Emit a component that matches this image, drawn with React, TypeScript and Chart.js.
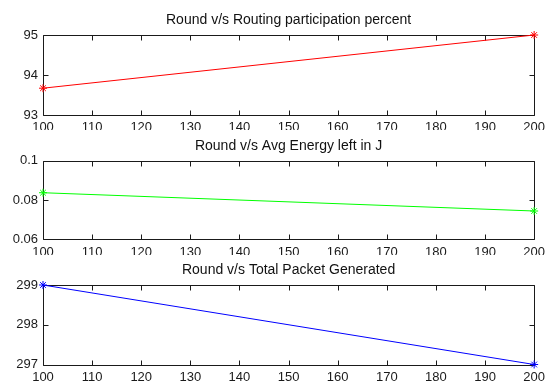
import React, { useEffect, useRef } from "react";
import { Chart, registerables } from "chart.js";

Chart.register(...registerables);

// ---- data ----
const rounds = [100, 200];
const routingPercent = [93.67, 95];
const avgEnergy = [0.0837, 0.0744];
const packetsGenerated = [299, 297];

const titles = [
  "Round v/s Routing participation percent",
  "Round v/s Avg Energy left in J",
  "Round v/s Total Packet Generated",
];
const xRange = { min: 100, max: 200, step: 10 };
const yRanges = [
  { min: 93, max: 95, step: 1 },
  { min: 0.06, max: 0.1, step: 0.02 },
  { min: 297, max: 299, step: 1 },
];
const colors = ["#ff0000", "#00ff00", "#0000ff"];

const FONT = "'Liberation Sans', Arial, Helvetica, sans-serif";

const fmt = (v: any) => String(parseFloat(Number(v).toFixed(6)));

const boxPlugin = {
  id: "matlabBox",
  beforeDatasetsDraw(chart: any) {
    const { ctx, chartArea } = chart;
    const xs = chart.scales.x;
    const ys = chart.scales.y;
    const l = Math.round(chartArea.left) + 0.5;
    const r = Math.round(chartArea.right) + 0.5;
    const t = Math.round(chartArea.top) + 0.5;
    const b = Math.round(chartArea.bottom) + 0.5;
    const tl = 5;
    ctx.save();
    ctx.strokeStyle = "#1a1a1a";
    ctx.lineWidth = 1;
    ctx.beginPath();
    ctx.rect(l, t, r - l, b - t);
    xs.ticks.forEach((tk: any) => {
      const px = Math.round(xs.getPixelForValue(tk.value)) + 0.5;
      ctx.moveTo(px, b);
      ctx.lineTo(px, b - tl);
      ctx.moveTo(px, t);
      ctx.lineTo(px, t + tl);
    });
    ys.ticks.forEach((tk: any) => {
      const py = Math.round(ys.getPixelForValue(tk.value)) + 0.5;
      ctx.moveTo(l, py);
      ctx.lineTo(l + tl, py);
      ctx.moveTo(r, py);
      ctx.lineTo(r - tl, py);
    });
    ctx.stroke();
    ctx.restore();
  },
};

type PanelProps = {
  top: number;
  height: number;
  title: string;
  values: number[];
  color: string;
  yr: { min: number; max: number; step: number };
  titlePadTop: number;
  titlePadBottom: number;
  xAxisHeight: number;
};

function Panel(p: PanelProps) {
  const ref = useRef<HTMLCanvasElement | null>(null);
  useEffect(() => {
    if (!ref.current) return;
    const chart = new Chart(ref.current, {
      type: "line",
      data: {
        datasets: [
          {
            data: rounds.map((x, i) => ({ x, y: p.values[i] })),
            borderColor: p.color,
            backgroundColor: p.color,
            borderWidth: 1,
            pointStyle: "star",
            pointRadius: 4,
            pointBorderWidth: 1,
            pointBorderColor: p.color,
            clip: false as any,
            tension: 0,
          } as any,
        ],
      },
      options: {
        animation: false,
        responsive: false,
        events: [],
        layout: { padding: { left: 0, right: 13.5, top: 0, bottom: 0 } },
        plugins: {
          legend: { display: false },
          tooltip: { enabled: false },
          title: {
            display: true,
            text: p.title,
            fullSize: false,
            color: "#111",
            font: { family: FONT, size: 14, weight: "normal" },
            padding: { top: p.titlePadTop, bottom: p.titlePadBottom },
          },
        },
        scales: {
          x: {
            type: "linear",
            min: xRange.min,
            max: xRange.max,
            ticks: {
              stepSize: xRange.step,
              color: "#1a1a1a",
              font: { family: FONT, size: 13 },
              padding: 5,
              maxRotation: 0,
              autoSkip: false,
              callback: fmt,
            },
            grid: { display: false, drawTicks: false },
            border: { display: false },
            afterFit: (s: any) => {
              s.height = p.xAxisHeight;
            },
          },
          y: {
            type: "linear",
            min: p.yr.min,
            max: p.yr.max,
            ticks: {
              stepSize: p.yr.step,
              color: "#1a1a1a",
              font: { family: FONT, size: 13 },
              padding: 5,
              callback: fmt,
            },
            grid: { display: false, drawTicks: false },
            border: { display: false },
            afterFit: (s: any) => {
              s.width = 43;
            },
          },
        },
      } as any,
      plugins: [boxPlugin],
    });
    return () => chart.destroy();
  }, []);
  return (
    <canvas
      ref={ref}
      width={550}
      height={p.height}
      style={{ position: "absolute", left: 0, top: p.top, width: 550, height: p.height }}
    />
  );
}

export default function App() {
  return (
    <div
      style={{
        position: "absolute",
        left: 0,
        top: 0,
        width: 550,
        height: 381,
        background: "#fff",
        overflow: "hidden",
      }}
    >
      <Panel top={0} height={130} title={titles[0]} values={routingPercent} color={colors[0]} yr={yRanges[0]} titlePadTop={11.6} titlePadBottom={6.6} xAxisHeight={15} />
      <Panel top={130} height={125} title={titles[1]} values={avgEnergy} color={colors[1]} yr={yRanges[1]} titlePadTop={7.6} titlePadBottom={6.3} xAxisHeight={15.7} />
      <Panel top={255} height={126} title={titles[2]} values={packetsGenerated} color={colors[2]} yr={yRanges[2]} titlePadTop={6.6} titlePadBottom={6.6} xAxisHeight={16.5} />
    </div>
  );
}
